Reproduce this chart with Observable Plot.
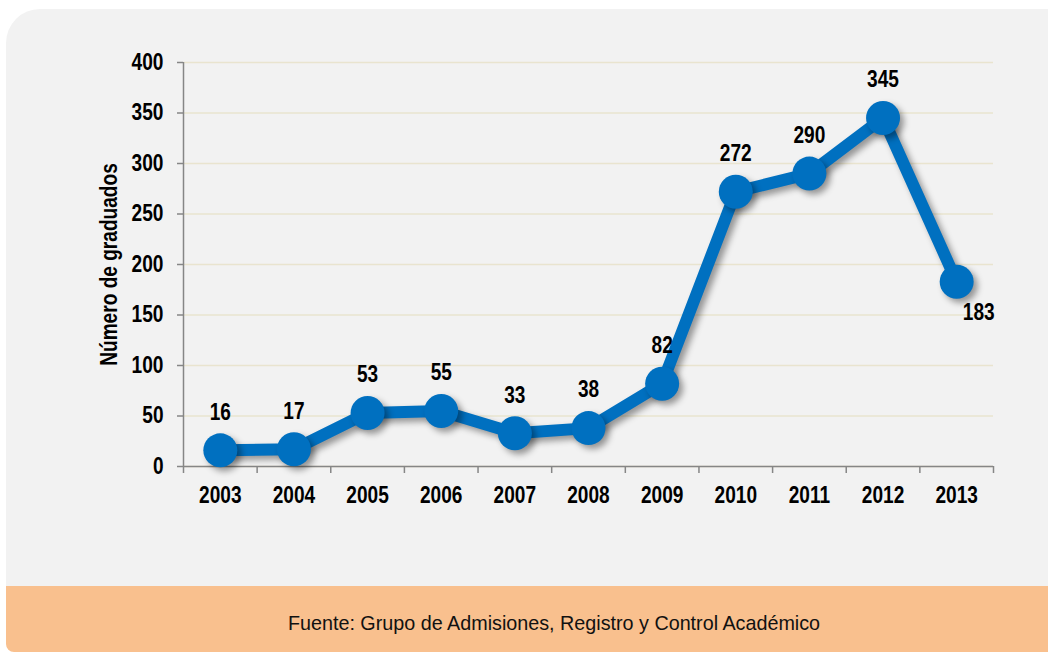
<!DOCTYPE html>
<html>
<head>
<meta charset="utf-8">
<script src="https://cdn.jsdelivr.net/npm/d3@7"></script>
<script src="https://cdn.jsdelivr.net/npm/@observablehq/plot@0.6"></script>
<style>
  html, body { margin: 0; padding: 0; background: #ffffff; }
  #wrap { position: relative; width: 1048px; height: 652px; overflow: hidden; }
  #panel { position: absolute; left: 6px; top: 9px; width: 1042px; height: 590px;
           background: #f2f2f2; border-top-left-radius: 34px; }
  #footer { position: absolute; left: 6px; top: 586px; width: 1042px; height: 66px;
            background: #f9c08e; border-bottom-left-radius: 8px; }
  #source { position: absolute; left: 554px; top: 611px; white-space: nowrap;
            font-family: "Liberation Sans", Arial, sans-serif; font-size: 21px; color: #111;
            transform: translateX(-50%) scaleX(0.94); transform-origin: center; }
  #chart { position: absolute; left: 0; top: 0; }
  #chart g[aria-label="line"], #chart g[aria-label="dot"] {
    filter: drop-shadow(4px 4px 3px rgba(0,0,0,0.38));
  }
</style>
</head>
<body>
<div id="wrap">
  <div id="panel"></div>
  <div id="footer"></div>
  <div id="source"></div>
  <div id="chart"></div>
</div>
<script>
const years = [2003, 2004, 2005, 2006, 2007, 2008, 2009, 2010, 2011, 2012, 2013];
const graduates = [16, 17, 53, 55, 33, 38, 82, 272, 290, 345, 183];
const yTicks = [0, 50, 100, 150, 200, 250, 300, 350, 400];
const yLabel = "Número de graduados";
const sourceText = "Fuente: Grupo de Admisiones, Registro y Control Académico";

const data = years.map((y, i) => ({year: y, value: graduates[i]}));
const bounds = [years[0] - 0.5, ...years.map(y => y + 0.5)];
const last = data.length - 1;

const blue = "#0070c0";
const axisGray = "#868686";

const chart = Plot.plot({
  width: 1048,
  height: 586,
  marginLeft: 183,
  marginRight: 55,
  marginTop: 62,
  marginBottom: 120,
  style: {
    background: "transparent",
    fontFamily: "'Liberation Sans', Arial, sans-serif",
    fontSize: "23px",
    fontWeight: "bold",
    color: "#000"
  },
  x: {type: "linear", domain: [bounds[0], bounds[bounds.length - 1]]},
  y: {domain: [0, 400]},
  marks: [
    Plot.gridY(yTicks, {stroke: "#e9e4cf", strokeOpacity: 1, strokeWidth: 1.5}),
    Plot.axisY({ticks: yTicks, tickSize: 6, tickPadding: 14, stroke: axisGray, strokeWidth: 1.5,
                fill: "#000", label: yLabel, labelAnchor: "center", labelOffset: 83, labelArrow: "none"}),
    Plot.axisX({ticks: bounds, tickSize: 7, tickFormat: () => "", stroke: axisGray, strokeWidth: 1.5, label: null}),
    Plot.axisX({ticks: years, tickSize: 0, tickPadding: 20, tickFormat: d => String(d), fill: "#000", label: null}),
    Plot.ruleY([0], {stroke: axisGray, strokeWidth: 1.5}),
    Plot.ruleX([bounds[0]], {stroke: axisGray, strokeWidth: 1.5}),
    Plot.line(data, {x: "year", y: "value", stroke: blue, strokeWidth: 12, strokeLinejoin: "round"}),
    Plot.dot(data, {x: "year", y: "value", r: 17, fill: blue, stroke: "none"}),
    Plot.text(data.filter((d, i) => i !== last), {x: "year", y: "value", text: d => String(d.value),
      dy: -38, fill: "#000", fontSize: 23, fontWeight: "bold"}),
    Plot.text(data.filter((d, i) => i === last), {x: "year", y: "value", text: d => String(d.value),
      dx: 22, dy: 31, fill: "#000", fontSize: 23, fontWeight: "bold"})
  ]
});
document.getElementById("chart").appendChild(chart);
document.getElementById("source").textContent = sourceText;

// Condense glyphs to mimic the narrow bold face of the original
chart.querySelectorAll("text").forEach(t => {
  const nodes = t.querySelectorAll("tspan").length ? t.querySelectorAll("tspan") : [t];
  nodes.forEach(n => {
    const len = n.getComputedTextLength();
    if (len > 0) {
      n.setAttribute("textLength", (len * 0.83).toFixed(1));
      n.setAttribute("lengthAdjust", "spacingAndGlyphs");
    }
  });
});
</script>
</body>
</html>
